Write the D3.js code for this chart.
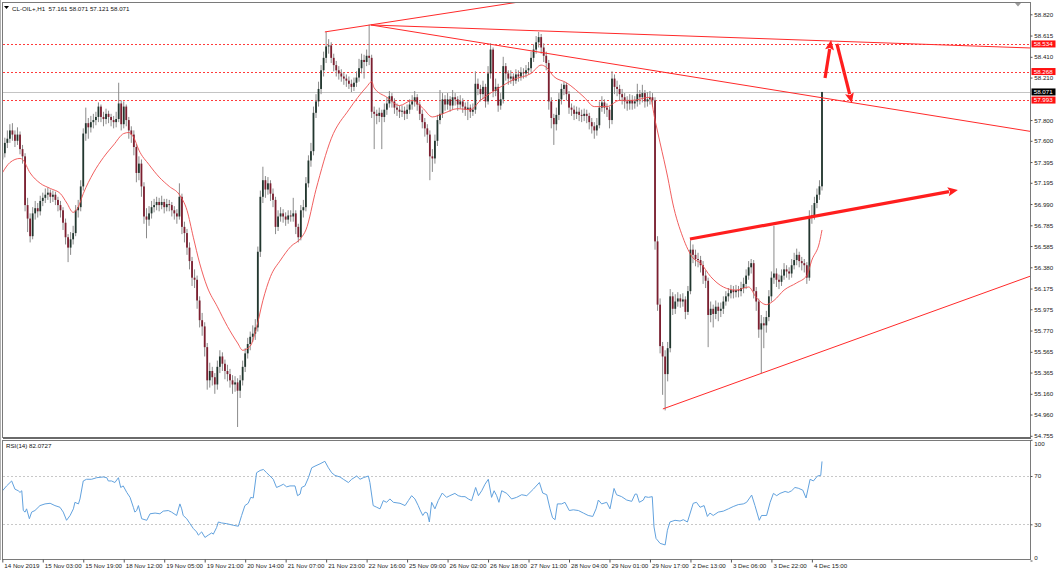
<!DOCTYPE html>
<html><head><meta charset="utf-8">
<script src="https://cdn.jsdelivr.net/npm/d3@7"></script>
<style>
html,body{margin:0;padding:0;background:#fff;}
svg{display:block;font-family:"Liberation Sans",Arial,sans-serif;}
</style></head><body>
<svg id="c" width="1058" height="575"></svg>
<script>
// ---------- DATA ----------
const symbolTitle = "CL-OIL+,H1  57.161 58.071 57.121 58.071";
const rsiTitle = "RSI(14) 82.0727";
const firstOpen = 57.42;
const closes = [57.48,57.58,57.62,57.70,57.66,57.60,57.66,57.52,57.45,56.98,
56.85,56.68,56.90,56.95,56.92,57.02,57.05,57.08,57.10,57.06,
57.08,57.03,56.98,56.93,56.81,56.67,56.57,56.65,56.71,56.93,
56.96,57.16,57.67,57.77,57.73,57.78,57.80,57.83,57.93,57.83,
57.81,57.86,57.83,57.80,57.78,57.81,57.96,57.76,57.93,57.80,
57.70,57.66,57.54,57.29,57.38,57.16,56.87,56.84,56.90,56.96,
56.98,57.01,56.98,57.01,56.96,56.99,56.98,56.93,56.90,56.87,
57.06,56.77,56.71,56.57,56.44,56.28,56.26,56.06,55.87,55.81,
55.61,55.29,55.38,55.32,55.25,55.42,55.52,55.45,55.38,55.35,
55.29,55.25,55.27,55.19,55.29,55.42,55.55,55.64,55.71,55.74,
55.80,56.53,57.06,57.22,57.13,57.19,57.09,57.03,56.77,56.87,
56.90,56.87,56.84,56.88,56.87,56.90,56.77,56.67,56.93,56.96,
57.19,57.41,57.50,57.87,57.98,58.10,58.28,58.40,58.51,58.52,
58.40,58.33,58.28,58.25,58.22,58.20,58.18,58.15,58.12,58.16,
58.21,58.30,58.38,58.36,58.42,58.40,57.88,57.86,57.84,57.87,
57.83,57.90,57.96,58.03,57.98,57.92,57.90,57.88,57.89,57.86,
57.90,57.95,57.98,58.02,57.95,57.86,57.78,57.72,57.66,57.45,
57.43,57.60,57.80,57.86,58.00,57.95,58.00,57.94,58.02,58.00,
57.95,57.98,57.93,57.90,57.92,57.88,57.90,58.15,58.10,58.05,
58.12,57.98,58.25,58.48,58.08,58.12,57.94,58.00,58.32,58.25,
58.20,58.22,58.18,58.24,58.22,58.26,58.25,58.28,58.30,58.40,
58.48,58.55,58.60,58.50,58.42,58.35,57.98,57.82,57.76,57.85,
58.00,58.10,58.14,58.05,57.92,57.90,57.86,57.88,57.85,57.84,
57.86,57.84,57.78,57.74,57.70,57.75,57.92,57.97,57.92,57.90,
57.80,58.20,58.12,58.10,58.05,58.02,57.98,57.96,57.99,57.96,
57.98,58.05,58.02,58.06,57.98,58.00,58.02,57.99,56.63,56.02,
55.62,55.52,55.35,55.60,56.10,55.98,56.05,56.08,56.05,56.07,
55.95,56.15,56.55,56.50,56.46,56.45,56.40,56.30,56.25,55.92,
55.98,55.93,56.00,55.96,55.98,56.05,56.10,56.13,56.16,56.14,
56.16,56.15,56.18,56.22,56.30,56.38,56.42,56.15,56.05,55.78,
55.84,55.82,55.90,56.10,56.28,56.32,56.26,56.24,56.30,56.36,
56.34,56.32,56.40,56.45,56.50,56.44,56.42,56.40,56.28,56.86,
56.88,57.00,57.08,57.161,58.071];
const highs = [57.56,57.63,57.70,57.76,57.77,57.70,57.73,57.69,57.56,57.48,
57.05,56.90,56.96,57.02,57.00,57.07,57.10,57.14,57.15,57.13,
57.12,57.11,57.06,57.02,56.96,56.85,56.70,56.72,56.78,56.98,
57.03,57.22,57.72,57.92,57.82,57.84,57.86,57.88,57.97,57.95,
57.88,57.91,57.89,57.86,57.84,57.88,58.16,57.99,57.98,57.95,
57.83,57.74,57.70,57.57,57.45,57.42,57.20,56.95,56.97,57.02,
57.04,57.06,57.05,57.07,57.04,57.04,57.03,57.01,56.97,56.94,
57.19,57.09,56.82,56.75,56.62,56.48,56.36,56.30,56.10,55.94,
55.85,55.65,55.46,55.42,55.36,55.48,55.58,55.56,55.49,55.44,
55.40,55.34,55.33,55.31,55.34,55.48,55.60,55.70,55.76,55.82,
55.88,56.58,57.12,57.35,57.26,57.25,57.22,57.14,57.06,56.93,
56.96,56.94,56.91,56.93,56.93,57.05,56.93,56.80,56.98,57.03,
57.25,57.46,57.58,57.93,58.05,58.17,58.33,58.46,58.65,58.58,
58.55,58.44,58.37,58.32,58.29,58.26,58.24,58.22,58.19,58.21,
58.27,58.39,58.44,58.43,58.48,58.72,58.43,57.93,57.90,57.92,
57.90,57.96,58.02,58.08,58.06,58.01,57.96,57.94,57.94,57.93,
57.95,58.00,58.04,58.08,58.05,57.98,57.90,57.82,57.76,57.70,
57.52,57.66,57.85,58.09,58.06,58.04,58.06,58.03,58.09,58.06,
58.03,58.04,58.01,57.97,57.98,57.95,57.96,58.27,58.20,58.14,
58.18,58.15,58.32,58.54,58.50,58.20,58.15,58.06,58.41,58.35,
58.28,58.28,58.25,58.29,58.28,58.31,58.30,58.33,58.36,58.46,
58.53,58.61,58.65,58.63,58.54,58.46,58.38,58.02,57.86,57.92,
58.06,58.15,58.17,58.16,58.08,57.96,57.94,57.93,57.92,57.90,
57.91,57.90,57.87,57.82,57.78,57.82,57.98,58.03,58.00,57.96,
57.93,58.27,58.24,58.18,58.14,58.10,58.06,58.03,58.05,58.04,
58.03,58.15,58.09,58.14,58.09,58.07,58.08,58.06,58.02,56.68,
56.08,55.66,55.58,55.66,56.17,56.14,56.12,56.14,56.12,56.13,
56.10,56.20,56.64,56.60,56.55,56.52,56.49,56.44,56.35,56.28,
56.05,56.02,56.06,56.04,56.04,56.10,56.15,56.18,56.21,56.20,
56.21,56.20,56.24,56.28,56.36,56.44,56.46,56.45,56.19,56.08,
55.92,55.90,55.96,56.16,56.34,56.78,56.37,56.31,56.36,56.42,
56.40,56.38,56.46,56.52,56.56,56.53,56.48,56.46,56.43,56.93,
56.98,57.06,57.14,57.22,58.071];
const lows = [57.36,57.44,57.53,57.58,57.60,57.54,57.56,57.47,57.38,56.92,
56.72,56.62,56.65,56.84,56.86,56.88,56.97,57.00,57.03,57.00,
57.01,56.98,56.92,56.86,56.74,56.60,56.43,56.50,56.60,56.68,
56.86,56.92,57.12,57.60,57.62,57.68,57.72,57.75,57.78,57.78,
57.74,57.76,57.77,57.74,57.72,57.73,57.78,57.70,57.72,57.74,
57.62,57.58,57.46,57.20,57.22,57.06,56.80,56.66,56.78,56.85,
56.91,56.93,56.92,56.94,56.90,56.92,56.92,56.87,56.84,56.80,
56.84,56.70,56.62,56.50,56.36,56.20,56.18,55.98,55.80,55.72,
55.52,55.20,55.22,55.24,55.16,55.20,55.36,55.38,55.30,55.28,
55.22,55.16,55.18,54.84,55.12,55.24,55.37,55.50,55.58,55.66,
55.68,55.76,56.48,57.00,57.05,57.08,57.02,56.96,56.70,56.73,
56.82,56.81,56.78,56.80,56.82,56.82,56.70,56.62,56.64,56.86,
56.92,57.15,57.35,57.46,57.82,57.93,58.05,58.22,58.35,58.44,
58.35,58.27,58.22,58.19,58.17,58.14,58.12,58.10,58.07,58.08,
58.12,58.17,58.25,58.20,58.32,58.33,57.82,57.52,57.76,57.78,
57.52,57.78,57.85,57.92,57.92,57.86,57.84,57.82,57.83,57.80,
57.81,57.86,57.90,57.93,57.89,57.80,57.72,57.64,57.58,57.22,
57.30,57.38,57.55,57.76,57.82,57.89,57.90,57.88,57.90,57.94,
57.89,57.91,57.87,57.84,57.80,57.82,57.84,57.86,58.04,57.98,
58.00,57.92,57.95,58.20,58.02,58.03,57.88,57.90,57.96,58.18,
58.14,58.15,58.13,58.15,58.17,58.18,58.20,58.21,58.24,58.26,
58.36,58.44,58.50,58.44,58.36,58.28,57.90,57.72,57.56,57.70,
57.80,57.95,58.04,57.99,57.86,57.84,57.80,57.81,57.79,57.78,
57.79,57.77,57.71,57.67,57.62,57.65,57.72,57.88,57.86,57.83,
57.72,57.76,58.05,58.03,57.99,57.95,57.91,57.89,57.90,57.90,
57.91,57.93,57.95,57.97,57.92,57.93,57.95,57.93,56.55,55.96,
55.55,55.15,55.00,55.28,55.56,55.92,55.93,56.00,55.99,56.00,
55.88,55.92,56.12,56.42,56.39,56.38,56.33,56.22,56.18,55.61,
55.85,55.80,55.88,55.86,55.90,55.93,56.01,56.05,56.08,56.08,
56.09,56.09,56.10,56.13,56.17,56.26,56.32,56.08,55.96,55.70,
55.36,55.60,55.75,55.86,56.05,56.22,56.19,56.17,56.20,56.26,
56.28,56.26,56.28,56.36,56.40,56.38,56.35,56.33,56.22,56.25,
56.80,56.84,56.95,57.03,57.121];
// moving average (red), read as [bar, value]
const maPoints = [[0,57.29],[3,57.39],[7,57.43],[8,57.42],[11,57.29],[15,57.19],[19,57.14],[23,57.09],[25.5,57.00],[28,56.91],
[30,56.96],[32,57.09],[36,57.29],[40,57.44],[44,57.56],[48,57.67],[50,57.68],[52,57.63],[54,57.51],[58,57.37],
[62,57.25],[66,57.16],[70,57.08],[73,56.93],[75.5,56.67],[78,56.42],[81,56.19],[85,56.00],[89,55.81],[93,55.65],
[95,55.58],[98,55.62],[100.5,55.80],[103,56.06],[106,56.29],[110,56.45],[114,56.58],[118,56.66],[120,56.74],[124,57.13],
[130,57.62],[137,57.90],[144,58.12],[146,58.17],[147,58.11],[152,58.02],[157,57.94],[162,57.99],[166,57.92],[170,57.83],
[174,57.86],[180,57.91],[185,57.90],[189,57.99],[193,58.06],[197,58.12],[202,58.19],[209,58.25],[213,58.33],[215,58.31],
[218,58.22],[223,58.16],[230,58.02],[234,57.93],[239,57.93],[244,57.99],[249,57.99],[256,58.02],[258,57.80],[260,57.58],
[263,57.25],[265,57.00],[269,56.67],[273,56.47],[276,56.42],[280,56.29],[285,56.19],[290,56.16],[295,56.19],[298,56.09],
[302,56.02],[305,56.06],[309,56.16],[314,56.23],[318,56.30],[320,56.45],[323,56.62],[324,56.74]];
// RSI(14), read as [bar, value]
const rsiPoints = [[0.1,57.8],[1.7,61.8],[3.7,65.9],[5.0,59.1],[6.3,57.8],[7.0,56.4],[7.7,57.8],[8.3,41.4],[9.0,40.1],[9.6,42.8],
[10.7,34.6],[11.6,40.1],[12.9,41.4],[14.9,45.5],[16.9,46.9],[18.9,47.4],[20.8,45.5],[22.8,44.1],[24.1,40.1],[25.4,33.3],
[26.8,37.3],[28.1,42.8],[28.7,48.2],[30.1,46.9],[30.7,51.0],[32.0,65.9],[33.3,67.3],[35.3,67.3],[37.3,68.6],[39.9,69.2],
[41.3,68.6],[41.9,65.9],[43.2,65.9],[44.5,64.6],[45.9,68.6],[46.8,60.5],[47.8,61.8],[49.2,56.4],[50.5,52.3],[51.8,44.1],
[52.4,40.1],[53.1,41.4],[53.8,45.5],[55.1,34.6],[57.1,33.3],[58.4,38.7],[60.4,39.3],[62.3,38.7],[63.6,40.9],[65.6,41.4],
[66.9,40.1],[68.9,37.3],[70.2,46.9],[70.9,42.8],[71.5,37.3],[72.9,34.6],[74.2,30.5],[75.5,26.5],[76.8,23.7],[77.5,21.0],
[78.8,23.7],[80.1,19.1],[81.4,21.0],[82.8,22.9],[83.4,21.8],[84.7,27.3],[85.4,31.9],[86.7,31.1],[88.7,30.5],[91.3,29.2],
[93.3,28.4],[94.6,37.3],[95.9,45.5],[97.2,47.4],[98.2,52.3],[99.2,51.8],[100.5,72.7],[101.9,74.6],[103.2,75.4],[104.5,72.7],
[105.8,70.0],[107.1,67.3],[108.4,60.5],[109.8,61.8],[111.1,63.2],[112.4,61.0],[113.7,61.8],[115.7,61.8],[116.7,53.7],[117.7,55.0],
[118.3,60.5],[119.6,61.8],[121.0,68.6],[122.3,76.8],[123.6,78.2],[125.6,80.1],[127.5,82.2],[128.9,76.8],[130.2,72.7],[131.5,70.5],
[133.5,69.2],[134.8,67.3],[136.8,64.6],[138.1,67.3],[140.1,70.0],[141.4,67.3],[142.7,68.6],[144.7,70.0],[145.3,64.6],[146.6,45.5],
[148.0,44.1],[149.3,42.8],[150.6,49.6],[151.9,48.2],[153.2,51.0],[154.6,48.2],[157.2,47.4],[159.2,45.5],[160.5,49.6],[161.8,53.7],
[163.1,51.0],[164.4,45.5],[165.1,42.0],[166.2,37.3],[167.1,40.1],[168.0,39.3],[168.8,31.9],[169.7,48.2],[171.0,42.8],[172.3,49.6],
[173.9,55.9],[175.6,52.3],[176.9,53.7],[178.9,55.6],[180.2,53.7],[181.6,52.9],[182.9,52.9],[184.2,51.0],[185.5,49.6],[187.1,60.5],
[188.2,53.7],[189.5,57.8],[190.8,63.2],[192.1,67.3],[193.4,52.3],[194.4,57.8],[195.4,53.7],[196.3,48.2],[197.4,57.8],[199.4,55.6],
[201.3,51.0],[203.3,52.3],[205.3,54.5],[207.3,53.7],[209.9,59.1],[212.3,64.6],[213.6,55.9],[215.2,54.5],[216.5,42.8],[217.5,35.4],
[218.5,33.8],[219.4,46.9],[221.1,46.9],[222.4,48.2],[224.1,41.4],[225.7,42.0],[227.7,41.4],[229.7,39.3],[231.6,37.3],[233.4,36.5],
[234.7,42.8],[235.6,50.1],[236.9,46.9],[238.9,48.2],[240.2,42.8],[241.8,59.7],[242.8,54.5],[244.8,52.9],[246.8,50.1],[248.8,49.0],
[250.1,55.0],[250.8,55.0],[251.8,48.2],[253.4,50.1],[254.0,52.9],[255.4,52.3],[256.9,52.9],[257.6,27.8],[258.4,18.3],[260.0,14.2],
[262.0,12.9],[262.9,25.1],[263.9,31.9],[265.9,33.3],[267.9,32.7],[269.2,33.8],[270.8,31.9],[273.1,47.4],[274.4,48.2],[275.8,44.1],
[277.4,45.5],[278.7,36.5],[279.7,39.3],[281.0,37.3],[283.0,40.1],[285.0,40.9],[287.0,42.8],[288.9,44.7],[290.9,46.3],[292.9,46.9],
[294.2,48.2],[296.2,54.2],[297.5,45.5],[299.2,33.3],[300.1,37.3],[302.1,37.3],[303.5,48.2],[304.8,55.6],[306.1,53.7],[307.4,55.6],
[309.4,57.2],[310.7,56.4],[312.0,57.8],[313.3,60.5],[314.6,59.9],[316.4,58.3],[317.7,51.8],[319.3,67.3],[320.6,65.9],[322.2,70.0],
[323.5,70.5],[324,82.07]];
const priceTicks = [58.820,58.615,58.410,58.210,57.800,57.600,57.395,57.195,56.990,56.785,56.585,56.380,56.175,55.975,55.770,55.565,55.365,55.160,54.960,54.755];
const levelPrices = [58.534, 58.268, 57.993];
const bidPrice = 58.071;
const rsiTicks = [100, 70, 30, 0];
const rsiLevels = [70, 30];
const timeTickBars = [0,16,32,48,64,80,96,112,128,144,160,176,192,208,224,240,256,272,288,304,320];
const timeLabels = ["14 Nov 2019","15 Nov 03:00","15 Nov 19:00","18 Nov 12:00","19 Nov 05:00","19 Nov 21:00","20 Nov 14:00","21 Nov 07:00","21 Nov 23:00","22 Nov 16:00","25 Nov 09:00","26 Nov 02:00","26 Nov 18:00","27 Nov 11:00","28 Nov 04:00","29 Nov 01:00","29 Nov 17:00","2 Dec 13:00","3 Dec 06:00","3 Dec 22:00","4 Dec 15:00"];
// drawn objects, in [bar, price]
const trendLines = [
  [[127.5,58.65],[204.6,58.94]],
  [[145.7,58.717],[406.6,58.495]],
  [[145.7,58.717],[406.6,57.690]],
  [[261.1,55.014],[406.6,56.297]]
];
const arrows = [
  [[271.8,56.653],[377.7,57.126]],
  [[325.2,58.206],[327.6,58.572]],
  [[329.9,58.534],[335.8,57.965]]
];

// ---------- LAYOUT ----------
const L = 2.5, R = 1030.5, T = 2.5, B = 437, RT = 440.5, RB = 559.5;
const svg = d3.select('#c');
const x = d3.scaleLinear().domain([0, 324]).range([2.3, 822.0]);
const y = d3.scaleLinear().domain([54.755, 58.820]).range([435.8, 14.3]);
const yr = d3.scaleLinear().domain([0, 100]).range([560.5, 439.8]);
const FS = 6.2;
const FONT = '"Liberation Sans",Arial,sans-serif';

const defs = svg.append('defs');
defs.append('clipPath').attr('id','cm').append('rect').attr('x',L+0.5).attr('y',T+0.5).attr('width',R-L-1).attr('height',B-T-1.5);
defs.append('clipPath').attr('id','cr').append('rect').attr('x',L+0.5).attr('y',RT+0.5).attr('width',R-L-1).attr('height',RB-RT-1);

svg.append('rect').attr('x',0).attr('y',0).attr('width',1058).attr('height',575).attr('fill','#fff');
const main = svg.append('g').attr('clip-path','url(#cm)');
const rsiG = svg.append('g').attr('clip-path','url(#cr)');

// horizontal levels
main.selectAll('line.lvl').data(levelPrices).join('line')
  .attr('x1',L).attr('x2',R).attr('y1',d=>Math.round(y(d))+0.5).attr('y2',d=>Math.round(y(d))+0.5)
  .attr('stroke','#ff3a3a').attr('stroke-width',1).attr('stroke-dasharray','2,2').attr('shape-rendering','crispEdges');
main.append('line').attr('x1',L).attr('x2',R).attr('y1',Math.round(y(bidPrice))+0.5).attr('y2',Math.round(y(bidPrice))+0.5)
  .attr('stroke','#c4c4c4').attr('stroke-width',1).attr('shape-rendering','crispEdges');

// candles
const bars = closes.map((c,i)=>({i, o: i===0?firstOpen:closes[i-1], h: highs[i], l: lows[i], c}));
main.selectAll('line.wick').data(bars).join('line')
  .attr('x1',d=>x(d.i)).attr('x2',d=>x(d.i)).attr('y1',d=>y(d.h)).attr('y2',d=>y(d.l))
  .attr('stroke','#858585').attr('stroke-width',0.95);
main.selectAll('rect.body').data(bars).join('rect')
  .attr('x',d=>x(d.i)-0.9).attr('width',1.8)
  .attr('y',d=>y(Math.max(d.o,d.c)))
  .attr('height',d=>Math.max(0.9, Math.abs(y(d.o)-y(d.c))))
  .attr('fill',d=>d.c>=d.o?'#22372f':'#7c1f30');

// moving average
main.append('path').datum(maPoints)
  .attr('d', d3.line().x(d=>x(d[0])).y(d=>y(d[1])).curve(d3.curveMonotoneX))
  .attr('fill','none').attr('stroke','#ee4d4d').attr('stroke-width',0.9);

// trend lines
main.selectAll('line.tl').data(trendLines).join('line')
  .attr('x1',d=>x(d[0][0])).attr('y1',d=>y(d[0][1])).attr('x2',d=>x(d[1][0])).attr('y2',d=>y(d[1][1]))
  .attr('stroke','#ff2a2a').attr('stroke-width',1);

// thick arrows
arrows.forEach(a=>{
  const x1=x(a[0][0]), y1=y(a[0][1]), x2=x(a[1][0]), y2=y(a[1][1]);
  const dx=x2-x1, dy=y2-y1, len=Math.hypot(dx,dy), ux=dx/len, uy=dy/len;
  const hl=10, hw=4.5;
  const bx=x2-ux*hl, by=y2-uy*hl;
  main.append('line').attr('x1',x1).attr('y1',y1).attr('x2',bx+ux*1).attr('y2',by+uy*1)
    .attr('stroke','#ff1e1e').attr('stroke-width',3.2).attr('stroke-linecap','butt');
  main.append('polygon').attr('points',[[x2,y2],[bx-uy*hw,by+ux*hw],[bx+ux*2,by+uy*2],[bx+uy*hw,by-ux*hw]].map(p=>p.join(',')).join(' '))
    .attr('fill','#ff1e1e');
});

// RSI
rsiG.selectAll('line.rl').data(rsiLevels).join('line')
  .attr('x1',L).attr('x2',R).attr('y1',d=>Math.round(yr(d))+0.5).attr('y2',d=>Math.round(yr(d))+0.5)
  .attr('stroke','#c8c8c8').attr('stroke-dasharray','2,2').attr('shape-rendering','crispEdges');
rsiG.append('path').datum(rsiPoints)
  .attr('d', d3.line().x(d=>x(d[0])).y(d=>yr(d[1])))
  .attr('fill','none').attr('stroke','#62a2de').attr('stroke-width',1);

// frames and separators
const frame = svg.append('g').attr('fill','none').attr('shape-rendering','crispEdges');
frame.append('rect').attr('x',L).attr('y',T).attr('width',R-L).attr('height',B-T).attr('stroke','#7a7a7a');
frame.append('line').attr('x1',L).attr('x2',R).attr('y1',B+0.5).attr('y2',B+0.5).attr('stroke','#6a6a6a').attr('stroke-width',2);
frame.append('rect').attr('x',L).attr('y',RT).attr('width',R-L).attr('height',RB-RT).attr('stroke','#7a7a7a');
frame.append('line').attr('x1',0.5).attr('x2',0.5).attr('y1',0).attr('y2',RB).attr('stroke','#b0b0b0');
svg.append('polygon').attr('points','1015,3 1021,3 1018,6.5').attr('fill','#9a9a9a');

// price axis
const ya = svg.append('g').attr('transform',`translate(${R},0)`)
  .call(d3.axisRight(y).tickValues(priceTicks).tickSize(2).tickPadding(1.8).tickFormat(d3.format('.3f')));
ya.select('.domain').remove();
ya.selectAll('line').attr('stroke','#555');
ya.selectAll('text').attr('font-size',FS).attr('fill','#222').attr('font-family',FONT);

// price tags
const tags = levelPrices.map(p=>({p, bg:'#ff1010'})).concat([{p:bidPrice,bg:'#000'}]);
const tg = svg.selectAll('g.tag').data(tags).join('g').attr('transform',d=>`translate(${R+1},${y(d.p)})`);
tg.append('rect').attr('x',0).attr('y',-3.5).attr('width',24).attr('height',7).attr('fill',d=>d.bg);
tg.append('text').attr('x',2.2).attr('y',2.3).attr('font-size',FS).attr('fill','#fff').attr('font-family',FONT).text(d=>d3.format('.3f')(d.p));

// RSI axis
const ra = svg.append('g').attr('transform',`translate(${R},0)`)
  .call(d3.axisRight(yr).tickValues(rsiTicks).tickSize(2).tickPadding(1.8));
ra.select('.domain').remove();
ra.selectAll('line').attr('stroke','#555');
ra.selectAll('text').attr('font-size',FS).attr('fill','#222').attr('font-family',FONT)
  .attr('dy',d=>d===100?'0.95em':(d===0?'-0.2em':'0.32em'));

// time axis
const xa = svg.append('g').attr('transform',`translate(0,${RB})`)
  .call(d3.axisBottom(x).tickValues(timeTickBars).tickSize(3).tickFormat((d,i)=>timeLabels[i]));
xa.select('.domain').remove();
xa.selectAll('line').attr('stroke','#555');
xa.selectAll('text').attr('font-size',FS).attr('fill','#222').attr('text-anchor','start')
  .attr('x',1.5).attr('y',4.5).attr('dy','0.71em').attr('font-family',FONT);

// titles
svg.append('polygon').attr('points','4,6 9,6 6.5,9').attr('fill','#000');
svg.append('text').attr('x',12).attr('y',10.5).attr('font-size',FS).attr('fill','#111').attr('font-family',FONT).attr('xml:space','preserve').text(symbolTitle);
svg.append('text').attr('x',6).attr('y',448).attr('font-size',FS).attr('fill','#111').attr('font-family',FONT).text(rsiTitle);
</script>
</body></html>
